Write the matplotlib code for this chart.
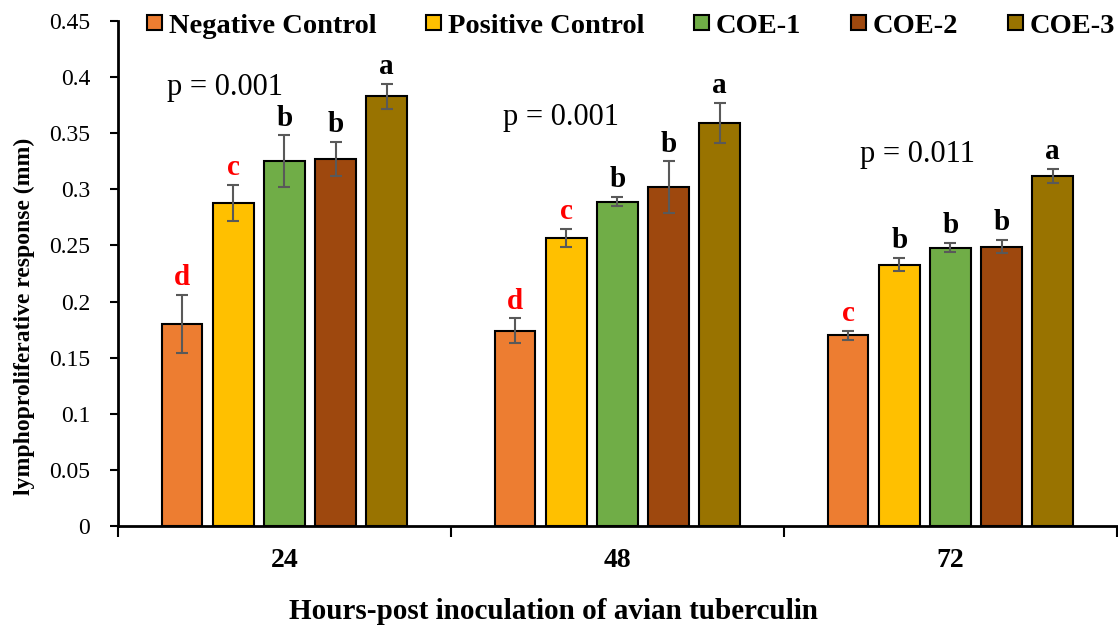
import numpy as np
import matplotlib
matplotlib.use("Agg")
import matplotlib.pyplot as plt
from matplotlib.patches import Patch

plt.rcParams['font.family'] = ['Liberation Serif', 'DejaVu Serif']

hours = ['24', '48', '72']
groups = ['Negative Control', 'Positive Control', 'COE-1', 'COE-2', 'COE-3']
colors = ['#ED7D31', '#FFC000', '#70AD47', '#9E480E', '#997300']

# mean response per group, one row per group, columns = 24, 48, 72 h
means = [
    [0.180, 0.174, 0.170],
    [0.288, 0.257, 0.233],
    [0.325, 0.289, 0.248],
    [0.327, 0.302, 0.249],
    [0.383, 0.359, 0.312],
]
errs = [
    [0.026, 0.011, 0.004],
    [0.016, 0.008, 0.006],
    [0.023, 0.004, 0.004],
    [0.015, 0.023, 0.006],
    [0.011, 0.018, 0.006],
]
letters = [
    ['d', 'd', 'c'],
    ['c', 'c', 'b'],
    ['b', 'b', 'b'],
    ['b', 'b', 'b'],
    ['a', 'a', 'a'],
]
letter_red = [
    [True, True, True],
    [True, True, False],
    [False, False, False],
    [False, False, False],
    [False, False, False],
]
p_texts = ['p = 0.001', 'p = 0.001', 'p = 0.011']
p_x = [-0.18, 0.83, 1.90]
p_y = [0.391, 0.364, 0.331]

fig = plt.figure(figsize=(11.18, 6.28), dpi=100)
ax = fig.add_axes([0.1055, 0.1624, 0.8935, 0.8042])

x = np.arange(len(hours))
step = 0.1536
width = 0.122
for i, g in enumerate(groups):
    pos = x + (i - 2) * step
    ax.bar(pos, means[i], width, color=colors[i], edgecolor='black', linewidth=1.5, zorder=2)
    ax.errorbar(pos, means[i], yerr=errs[i], fmt='none', ecolor='#595959',
                elinewidth=1.5, capsize=4, capthick=1.5, zorder=3)
    for j in range(len(hours)):
        top = means[i][j] + errs[i][j]
        ax.annotate(letters[i][j], (pos[j], top), xytext=(0, 7), textcoords='offset points',
                    ha='center', va='baseline', fontsize=21, fontweight='bold',
                    color='red' if letter_red[i][j] else 'black')

for t, px, py in zip(p_texts, p_x, p_y):
    ax.text(px, py, t, ha='center', va='center', fontsize=22)

ax.set_xlim(-0.5, 2.5)
ax.set_ylim(0, 0.45)
ax.set_yticks(np.arange(0, 0.451, 0.05))
ax.set_yticklabels(['0', '0.05', '0.1', '0.15', '0.2', '0.25', '0.3', '0.35', '0.4', '0.45'])
ax.set_xticks(x)
ax.set_xticklabels(hours, fontsize=20, fontweight='bold')
ax.set_xticks([-0.5, 0.5, 1.5, 2.5], minor=True)
ax.tick_params(axis='x', which='major', length=0, pad=16)
ax.tick_params(axis='x', which='minor', length=8, width=1.5, direction='out')
ax.tick_params(axis='y', length=6, width=1.5, direction='out', labelsize=17, pad=14)

for s in ['top', 'right']:
    ax.spines[s].set_visible(False)
ax.spines['left'].set_linewidth(2)
ax.spines['bottom'].set_linewidth(2)

ax.set_ylabel('lymphoproliferative response (mm)', fontsize=17, fontweight='bold')
ax.yaxis.set_label_coords(-0.083, 0.416)
ax.set_xlabel('Hours-post inoculation of avian tuberculin', fontsize=21, fontweight='bold')
ax.xaxis.set_label_coords(0.436, -0.142)

handles = [Patch(facecolor=c, edgecolor='black', linewidth=1.5) for c in colors]
fig.legend(handles, groups, loc='upper left', bbox_to_anchor=(147 / 1118, 0.978), ncol=5,
           frameon=False, borderpad=0, borderaxespad=0,
           handlelength=0.52, handleheight=0.45, handletextpad=0.24,
           columnspacing=1.75, prop={'size': 20.5, 'weight': 'bold'})

fig.savefig('out.png', dpi=100)
